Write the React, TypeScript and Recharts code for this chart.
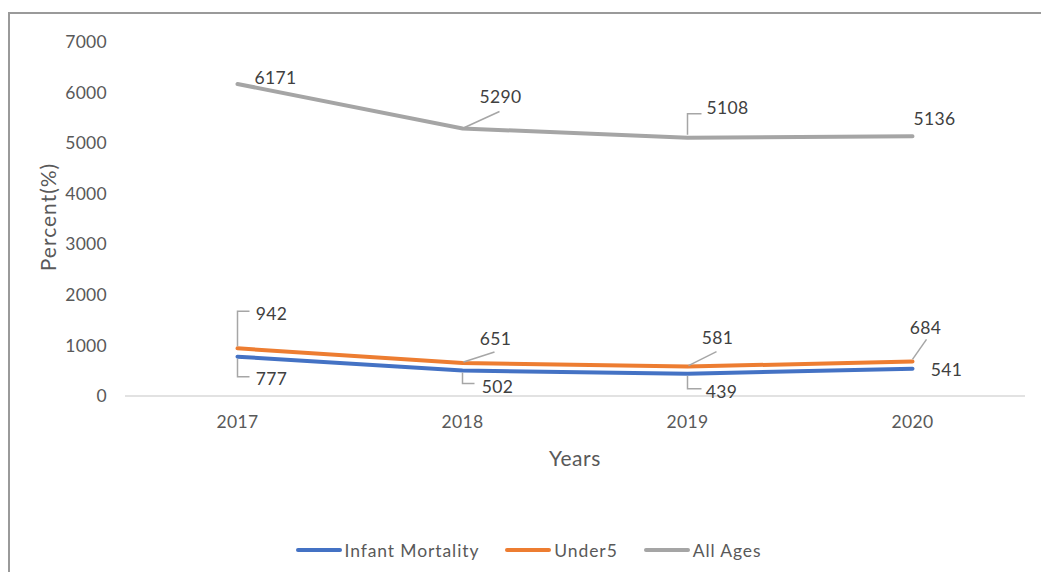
import React from 'react';
import { LineChart, Line, XAxis, YAxis, LabelList } from 'recharts';

const years = ['2017', '2018', '2019', '2020'];
const infantMortality = [777, 502, 439, 541];
const under5 = [942, 651, 581, 684];
const allAges = [6171, 5290, 5108, 5136];
const yTicks = [0, 1000, 2000, 3000, 4000, 5000, 6000, 7000];

const FONT = 'Lato, "Open Sans", sans-serif';
const TEXT = '#595959';
const LABEL = '#404040';
const LEADER = '#a6a6a6';

// label placement relative to each point (text centre + optional leader polyline)
type LabelPos = { dx: number; dy: number; leader?: number[][] };

const infantPos: LabelPos[] = [
  { dx: 34, dy: 22, leader: [[0, 2], [0, 20], [12, 20]] },
  { dx: 35, dy: 16, leader: [[0, 2], [0, 13], [12, 13]] },
  { dx: 34, dy: 18, leader: [[0, 2], [0, 15], [14, 15]] },
  { dx: 34, dy: 1 },
];
const under5Pos: LabelPos[] = [
  { dx: 34, dy: -35, leader: [[0, -2], [0, -37], [12, -37]] },
  { dx: 33, dy: -25, leader: [[1, -1], [32, -11]] },
  { dx: 30, dy: -29, leader: [[1, -1], [29, -15]] },
  { dx: 13, dy: -34, leader: [[0, -2], [14, -22]] },
];
const allAgesPos: LabelPos[] = [
  { dx: 38, dy: -6 },
  { dx: 38, dy: -32, leader: [[2, -1], [37, -17]] },
  { dx: 40, dy: -30, leader: [[0, -3], [0, -24], [14, -24]] },
  { dx: 22, dy: -18 },
];

const data = years.map((year, i) => ({
  year,
  infant: infantMortality[i],
  under5: under5[i],
  all: allAges[i],
}));

const series = [
  { key: 'infant', name: 'Infant Mortality', color: '#4472C4', pos: infantPos },
  { key: 'under5', name: 'Under5', color: '#ED7D31', pos: under5Pos },
  { key: 'all', name: 'All Ages', color: '#A5A5A5', pos: allAgesPos },
];

function makeLabel(pos: LabelPos[]) {
  return (props: any) => {
    const { x, y, value, index } = props;
    const p = pos[index];
    if (!p) return null;
    return (
      <g>
        {p.leader && (
          <polyline
            points={p.leader.map(([a, b]) => `${x + a},${y + b}`).join(' ')}
            fill="none"
            stroke={LEADER}
            strokeWidth={1.5}
          />
        )}
        <text
          x={x + p.dx}
          y={y + p.dy}
          textAnchor="middle"
          dominantBaseline="central"
          fontFamily={FONT}
          fontSize={17.5}
          letterSpacing={0.3}
          fill={LABEL}
        >
          {value}
        </text>
      </g>
    );
  };
}

export default function App() {
  return (
    <div style={{ position: 'relative', width: 1041, height: 564, overflow: 'hidden', background: '#fff' }}>
      <div
        style={{
          position: 'absolute',
          top: 4,
          left: 0,
          width: 1200,
          height: 700,
          borderTop: '2px solid #9a9a9a',
          borderLeft: '2px solid #9a9a9a',
        }}
      />
      <div style={{ position: 'absolute', top: 0, left: 0 }}>
        <LineChart width={1041} height={564} data={data} margin={{ top: 34, right: 24, bottom: 146, left: 27 }}>
          <XAxis
            dataKey="year"
            height={30}
            padding={{ left: 112.5, right: 112.5 }}
            axisLine={{ stroke: '#d9d9d9', strokeWidth: 1.5 }}
            tickLine={false}
            tickSize={0}
            tickMargin={20}
            tick={{ fill: TEXT, fontSize: 17.5, fontFamily: FONT, letterSpacing: 0.3 }}
            label={(p: any) => {
              const vb = p.viewBox;
              return (
                <text
                  x={vb.x + vb.width / 2}
                  y={vb.y + 61}
                  textAnchor="middle"
                  dominantBaseline="central"
                  fontFamily={FONT}
                  fontSize={21}
                  letterSpacing={0.6}
                  fill={TEXT}
                >
                  Years
                </text>
              );
            }}
          />
          <YAxis
            width={90}
            domain={[0, 7000]}
            ticks={yTicks}
            axisLine={false}
            tickLine={false}
            tickSize={0}
            tickMargin={18}
            tick={{ fill: TEXT, fontSize: 17.5, fontFamily: FONT, letterSpacing: 0.3 }}
            label={(p: any) => {
              const vb = p.viewBox;
              const cx = vb.x + 12;
              const cy = vb.y + vb.height / 2 - 2;
              return (
                <text
                  x={cx}
                  y={cy}
                  transform={`rotate(-90 ${cx} ${cy})`}
                  textAnchor="middle"
                  dominantBaseline="central"
                  fontFamily={FONT}
                  fontSize={21}
                  letterSpacing={1}
                  fill={TEXT}
                >
                  Percent(%)
                </text>
              );
            }}
          />
          {series.map((s) => (
            <Line
              key={s.key}
              type="linear"
              dataKey={s.key}
              name={s.name}
              stroke={s.color}
              strokeWidth={4}
              strokeLinecap="round"
              dot={false}
              activeDot={false}
              isAnimationActive={false}
            >
              <LabelList dataKey={s.key} content={makeLabel(s.pos)} />
            </Line>
          ))}
        </LineChart>
      </div>
      <div
        style={{
          position: 'absolute',
          top: 530,
          left: 0,
          width: 1041,
          height: 24,
          display: 'flex',
          justifyContent: 'center',
          alignItems: 'center',
          gap: 26,
          fontFamily: FONT,
          fontSize: 17.5,
          letterSpacing: 0.9,
          color: TEXT,
        }}
      >
        {series.map((s) => (
          <div key={s.key} style={{ display: 'flex', alignItems: 'center', gap: 3 }}>
            <span style={{ display: 'inline-block', width: 46, height: 4, borderRadius: 2, background: s.color }} />
            <span>{s.name}</span>
          </div>
        ))}
      </div>
    </div>
  );
}
